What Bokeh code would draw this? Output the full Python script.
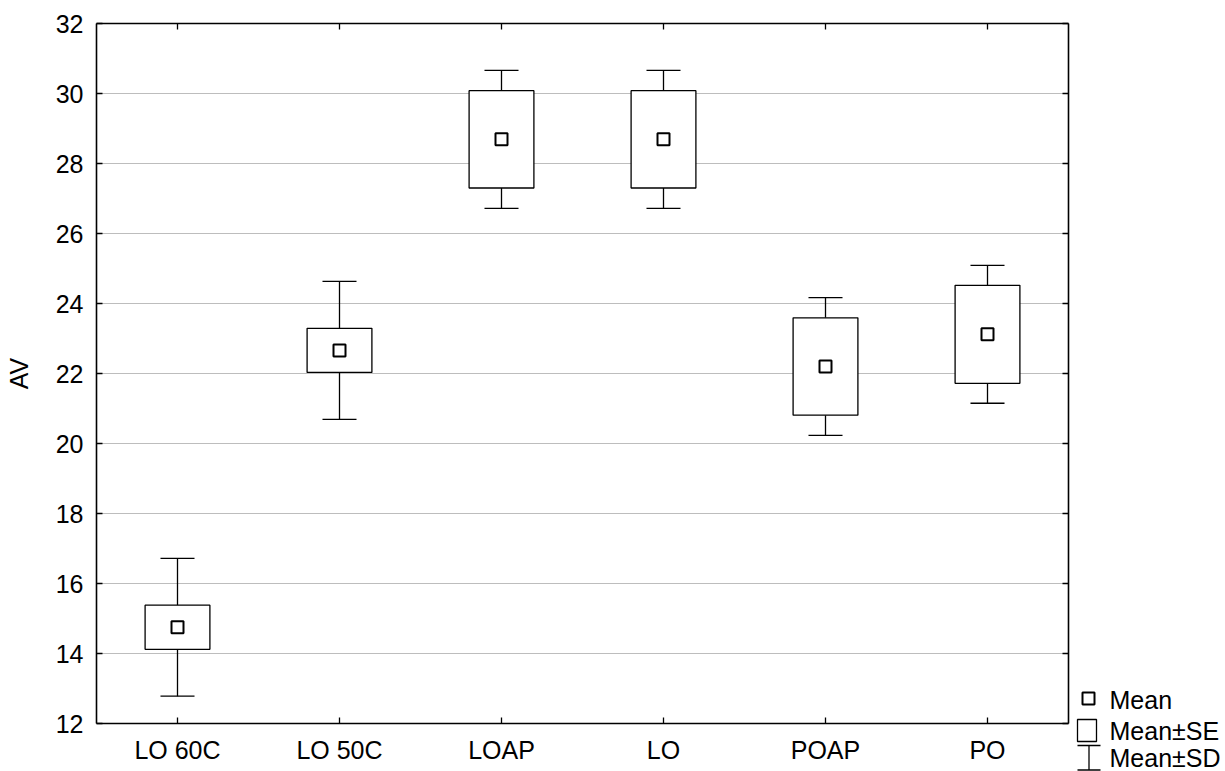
from bokeh.plotting import figure
from bokeh.layouts import row, column
from bokeh.models import ColumnDataSource, LinearAxis, FixedTicker, Range1d, Spacer
from bokeh.core.properties import value
from bokeh.embed import file_html
from bokeh.resources import INLINE

# ---- data ----
categories = ["LO 60C", "LO 50C", "LOAP", "LO", "POAP", "PO"]
means = [14.75, 22.66, 28.69, 28.69, 22.20, 23.12]
se = [0.63, 0.63, 1.39, 1.39, 1.39, 1.40]
sd = [1.97, 1.97, 1.97, 1.97, 1.97, 1.97]
y_ticks = [12, 14, 16, 18, 20, 22, 24, 26, 28, 30, 32]
legend_labels = ["Mean", "Mean\u00b1SE", "Mean\u00b1SD"]

FONT = "Liberation Sans"
FS = "25px"
BOX_W = 0.40
CAP_W = 0.21
LW = 1.3

xs = [i + 0.5 for i in range(len(categories))]
src = ColumnDataSource(dict(
    x=xs,
    mean=means,
    se_lo=[m - s for m, s in zip(means, se)],
    se_hi=[m + s for m, s in zip(means, se)],
    sd_lo=[m - s for m, s in zip(means, sd)],
    sd_hi=[m + s for m, s in zip(means, sd)],
    box_l=[x - BOX_W / 2 for x in xs],
    box_r=[x + BOX_W / 2 for x in xs],
    cap_l=[x - CAP_W / 2 for x in xs],
    cap_r=[x + CAP_W / 2 for x in xs],
))

p = figure(width=1070, height=771, output_backend="svg", toolbar_location=None,
           x_range=Range1d(0, len(categories)), y_range=Range1d(12, 32),
           min_border_left=96, min_border_right=2, min_border_top=23,
           min_border_bottom=48, x_axis_location=None, y_axis_location=None)
p.outline_line_color = None
p.background_fill_color = "white"
p.border_fill_color = "white"

def style_axis(ax, labels=True):
    ax.axis_line_color = "black"
    ax.axis_line_width = 1.6
    ax.major_tick_line_color = "black"
    ax.major_tick_line_width = 1.3
    ax.major_tick_in = 6
    ax.major_tick_out = 0
    ax.minor_tick_line_color = None
    ax.major_label_text_font = FONT
    ax.major_label_text_font_size = FS
    ax.major_label_text_color = "black"
    if not labels:
        ax.major_label_standoff = 0

overrides = {x: c for x, c in zip(xs, categories)}

left = LinearAxis(ticker=FixedTicker(ticks=y_ticks), axis_label="AV")
style_axis(left)
left.major_label_standoff = 13
left.axis_label_text_font = FONT
left.axis_label_text_font_size = FS
left.axis_label_text_font_style = "normal"
left.axis_label_text_color = "black"
left.axis_label_standoff = 20
p.add_layout(left, "left")

right = LinearAxis(ticker=FixedTicker(ticks=y_ticks),
                   major_label_overrides={t: "" for t in y_ticks})
style_axis(right, labels=False)
p.add_layout(right, "right")

bottom = LinearAxis(ticker=FixedTicker(ticks=xs), major_label_overrides=overrides)
style_axis(bottom)
bottom.major_label_standoff = 12
p.add_layout(bottom, "below")

top = LinearAxis(ticker=FixedTicker(ticks=xs),
                 major_label_overrides={x: "" for x in xs})
style_axis(top, labels=False)
p.add_layout(top, "above")

p.ygrid.ticker = FixedTicker(ticks=y_ticks)
p.ygrid.grid_line_color = "#7a7a7a"
p.ygrid.grid_line_dash = "1 1"
p.ygrid.grid_line_width = 1
p.xgrid.visible = False

# SD whiskers (stems + caps)
p.segment(x0="x", y0="se_hi", x1="x", y1="sd_hi", source=src, line_color="black", line_width=LW)
p.segment(x0="x", y0="se_lo", x1="x", y1="sd_lo", source=src, line_color="black", line_width=LW)
p.segment(x0="cap_l", y0="sd_hi", x1="cap_r", y1="sd_hi", source=src, line_color="black", line_width=LW)
p.segment(x0="cap_l", y0="sd_lo", x1="cap_r", y1="sd_lo", source=src, line_color="black", line_width=LW)
# SE boxes
p.quad(left="box_l", right="box_r", bottom="se_lo", top="se_hi", source=src,
       fill_color="white", line_color="black", line_width=LW)
# Means
p.scatter(x="x", y="mean", source=src, marker="square", size=12,
          fill_color="white", line_color="black", line_width=2)

# ---- legend panel (bottom right), pixel coordinates, y downward ----
LG_TOP = 681
lg = figure(width=155, height=771 - LG_TOP, output_backend="svg", toolbar_location=None,
            x_range=Range1d(0, 155), y_range=Range1d(771, LG_TOP),
            min_border=0, x_axis_location=None, y_axis_location=None)
lg.outline_line_color = None
lg.grid.visible = False
lg.background_fill_color = "white"
lg.border_fill_color = "white"

lg.scatter(x=[18], y=[698], marker="square", size=12, fill_color="white",
           line_color="black", line_width=2)
lg.quad(left=[7], right=[26], top=[719], bottom=[741], fill_color="white",
        line_color="black", line_width=LW)
lg.segment(x0=[18.5], y0=[745], x1=[18.5], y1=[769.5], line_color="black", line_width=LW)
lg.segment(x0=[7, 7], y0=[745, 769.5], x1=[30, 30], y1=[745, 769.5],
           line_color="black", line_width=LW)
lg.text(x=[39, 39, 39], y=[699, 730, 757], text=legend_labels,
        text_font=value(FONT), text_font_size=FS, text_baseline="middle",
        text_align="left", text_color="black")

right_col = column(Spacer(width=155, height=LG_TOP), lg, spacing=0)
layout = row(p, right_col, spacing=0)
open("out.html", "w").write(file_html(layout, INLINE))
